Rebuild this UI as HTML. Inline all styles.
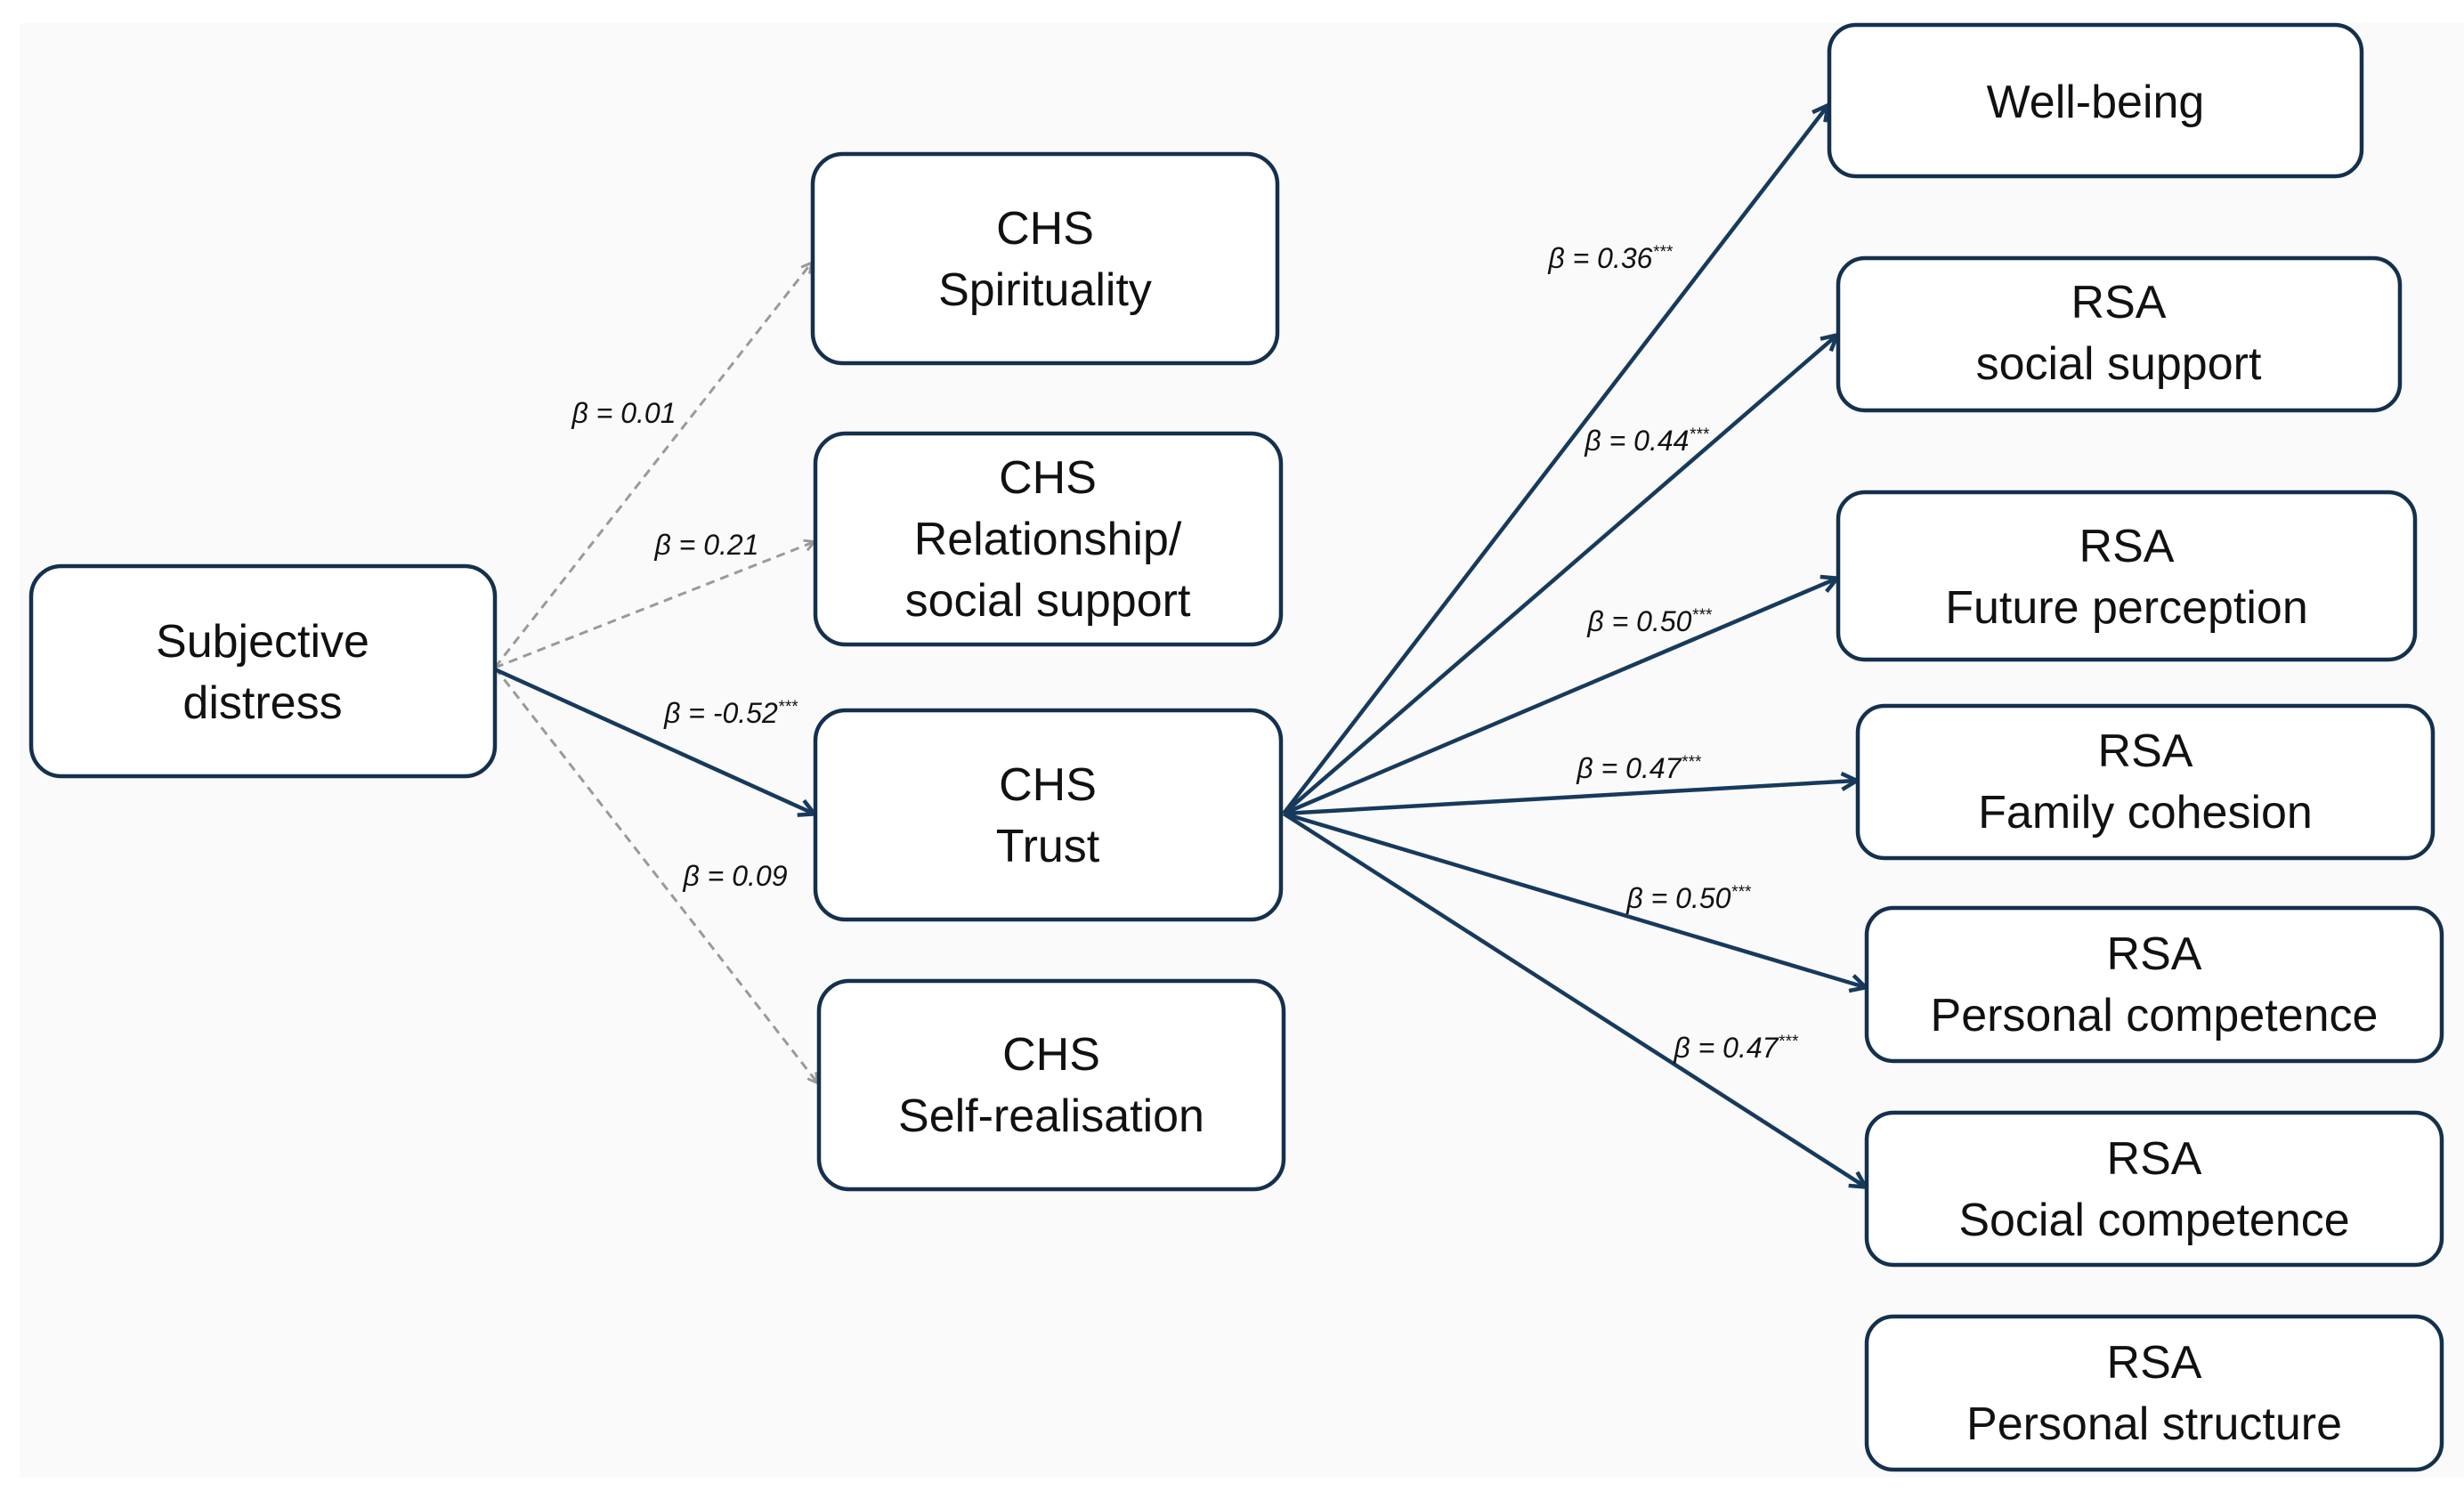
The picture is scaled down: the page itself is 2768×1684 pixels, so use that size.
<!DOCTYPE html>
<html><head><meta charset="utf-8"><style>
html,body{margin:0;padding:0;background:#fff;}
svg{display:block;}
.b{fill:#fff;stroke:#14304d;stroke-width:4.5;}
.t{font-family:"Liberation Sans",sans-serif;font-size:52px;fill:#111;text-anchor:middle;}
.l{font-family:"Liberation Sans",sans-serif;font-size:32px;font-style:italic;fill:#111;text-anchor:middle;}
.s{font-size:19px;}
.d{stroke:#9a9a9a;stroke-width:3;stroke-dasharray:10,7;fill:none;}
.n{stroke:#173a5c;stroke-width:4.5;fill:none;}
</style></head><body>
<svg width="2768" height="1684" viewBox="0 0 2768 1684">
<defs>
<marker id="ag" markerWidth="14" markerHeight="14" refX="11" refY="7" orient="auto" markerUnits="userSpaceOnUse"><path d="M1,1 L12,7 L1,13" fill="none" stroke="#9a9a9a" stroke-width="3"/></marker>
<marker id="an" markerWidth="22" markerHeight="22" refX="18" refY="11" orient="auto" markerUnits="userSpaceOnUse"><path d="M2,2 L19,11 L2,20" fill="none" stroke="#173a5c" stroke-width="4.5"/></marker>
</defs>
<rect x="0" y="0" width="2768" height="1684" fill="#fafafa"/>
<rect x="0" y="0" width="2768" height="26" fill="#fff"/>
<rect x="0" y="0" width="22" height="1684" fill="#fff"/>
<rect x="0" y="1660" width="2768" height="24" fill="#fff"/>

<line class="d" x1="556" y1="750" x2="911" y2="296" marker-end="url(#ag)"/>
<line class="d" x1="556" y1="750" x2="914" y2="609" marker-end="url(#ag)"/>
<line class="d" x1="556" y1="750" x2="918" y2="1216" marker-end="url(#ag)"/>
<line class="n" x1="556" y1="752" x2="914" y2="914" marker-end="url(#an)"/>

<line class="n" x1="1442" y1="914" x2="2053" y2="119" marker-end="url(#an)"/>
<line class="n" x1="1442" y1="914" x2="2063" y2="377" marker-end="url(#an)"/>
<line class="n" x1="1442" y1="914" x2="2063" y2="650" marker-end="url(#an)"/>
<line class="n" x1="1442" y1="914" x2="2085" y2="877" marker-end="url(#an)"/>
<line class="n" x1="1442" y1="914" x2="2095" y2="1109" marker-end="url(#an)"/>
<line class="n" x1="1442" y1="914" x2="2095" y2="1333" marker-end="url(#an)"/>

<rect class="b" x="35" y="636" width="521" height="236" rx="34"/>
<text class="t" x="295" y="738">Subjective</text><text class="t" x="295" y="807">distress</text>

<rect class="b" x="913" y="173" width="522" height="235" rx="34"/>
<text class="t" x="1174" y="274">CHS</text><text class="t" x="1174" y="343">Spirituality</text>

<rect class="b" x="916" y="487" width="523" height="237" rx="34"/>
<text class="t" x="1177" y="554">CHS</text><text class="t" x="1177" y="623">Relationship/</text><text class="t" x="1177" y="692">social support</text>

<rect class="b" x="916" y="798" width="523" height="235" rx="34"/>
<text class="t" x="1177" y="899">CHS</text><text class="t" x="1177" y="968">Trust</text>

<rect class="b" x="920" y="1102" width="522" height="234" rx="34"/>
<text class="t" x="1181" y="1202">CHS</text><text class="t" x="1181" y="1271">Self-realisation</text>

<rect class="b" x="2055" y="28" width="598" height="170" rx="30"/>
<text class="t" x="2354" y="132">Well-being</text>

<rect class="b" x="2065" y="290" width="631" height="171" rx="30"/>
<text class="t" x="2380" y="357">RSA</text><text class="t" x="2380" y="426">social support</text>

<rect class="b" x="2065" y="553" width="648" height="188" rx="30"/>
<text class="t" x="2389" y="631">RSA</text><text class="t" x="2389" y="700">Future perception</text>

<rect class="b" x="2087" y="793" width="646" height="171" rx="30"/>
<text class="t" x="2410" y="861">RSA</text><text class="t" x="2410" y="930">Family cohesion</text>

<rect class="b" x="2097" y="1020" width="646" height="172" rx="30"/>
<text class="t" x="2420" y="1089">RSA</text><text class="t" x="2420" y="1158">Personal competence</text>

<rect class="b" x="2097" y="1250" width="646" height="171" rx="30"/>
<text class="t" x="2420" y="1319">RSA</text><text class="t" x="2420" y="1388">Social competence</text>

<rect class="b" x="2097" y="1479" width="646" height="172" rx="30"/>
<text class="t" x="2420" y="1548">RSA</text><text class="t" x="2420" y="1617">Personal structure</text>

<text class="l" x="701" y="475">β = 0.01</text>
<text class="l" x="794" y="623">β = 0.21</text>
<text class="l" x="821" y="812">β = -0.52<tspan class="s" dy="-12">***</tspan></text>
<text class="l" x="826" y="995">β = 0.09</text>
<text class="l" x="1809" y="301">β = 0.36<tspan class="s" dy="-12">***</tspan></text>
<text class="l" x="1850" y="506">β = 0.44<tspan class="s" dy="-12">***</tspan></text>
<text class="l" x="1853" y="709">β = 0.50<tspan class="s" dy="-12">***</tspan></text>
<text class="l" x="1841" y="874">β = 0.47<tspan class="s" dy="-12">***</tspan></text>
<text class="l" x="1897" y="1020">β = 0.50<tspan class="s" dy="-12">***</tspan></text>
<text class="l" x="1950" y="1188">β = 0.47<tspan class="s" dy="-12">***</tspan></text>
</svg>
</body></html>
